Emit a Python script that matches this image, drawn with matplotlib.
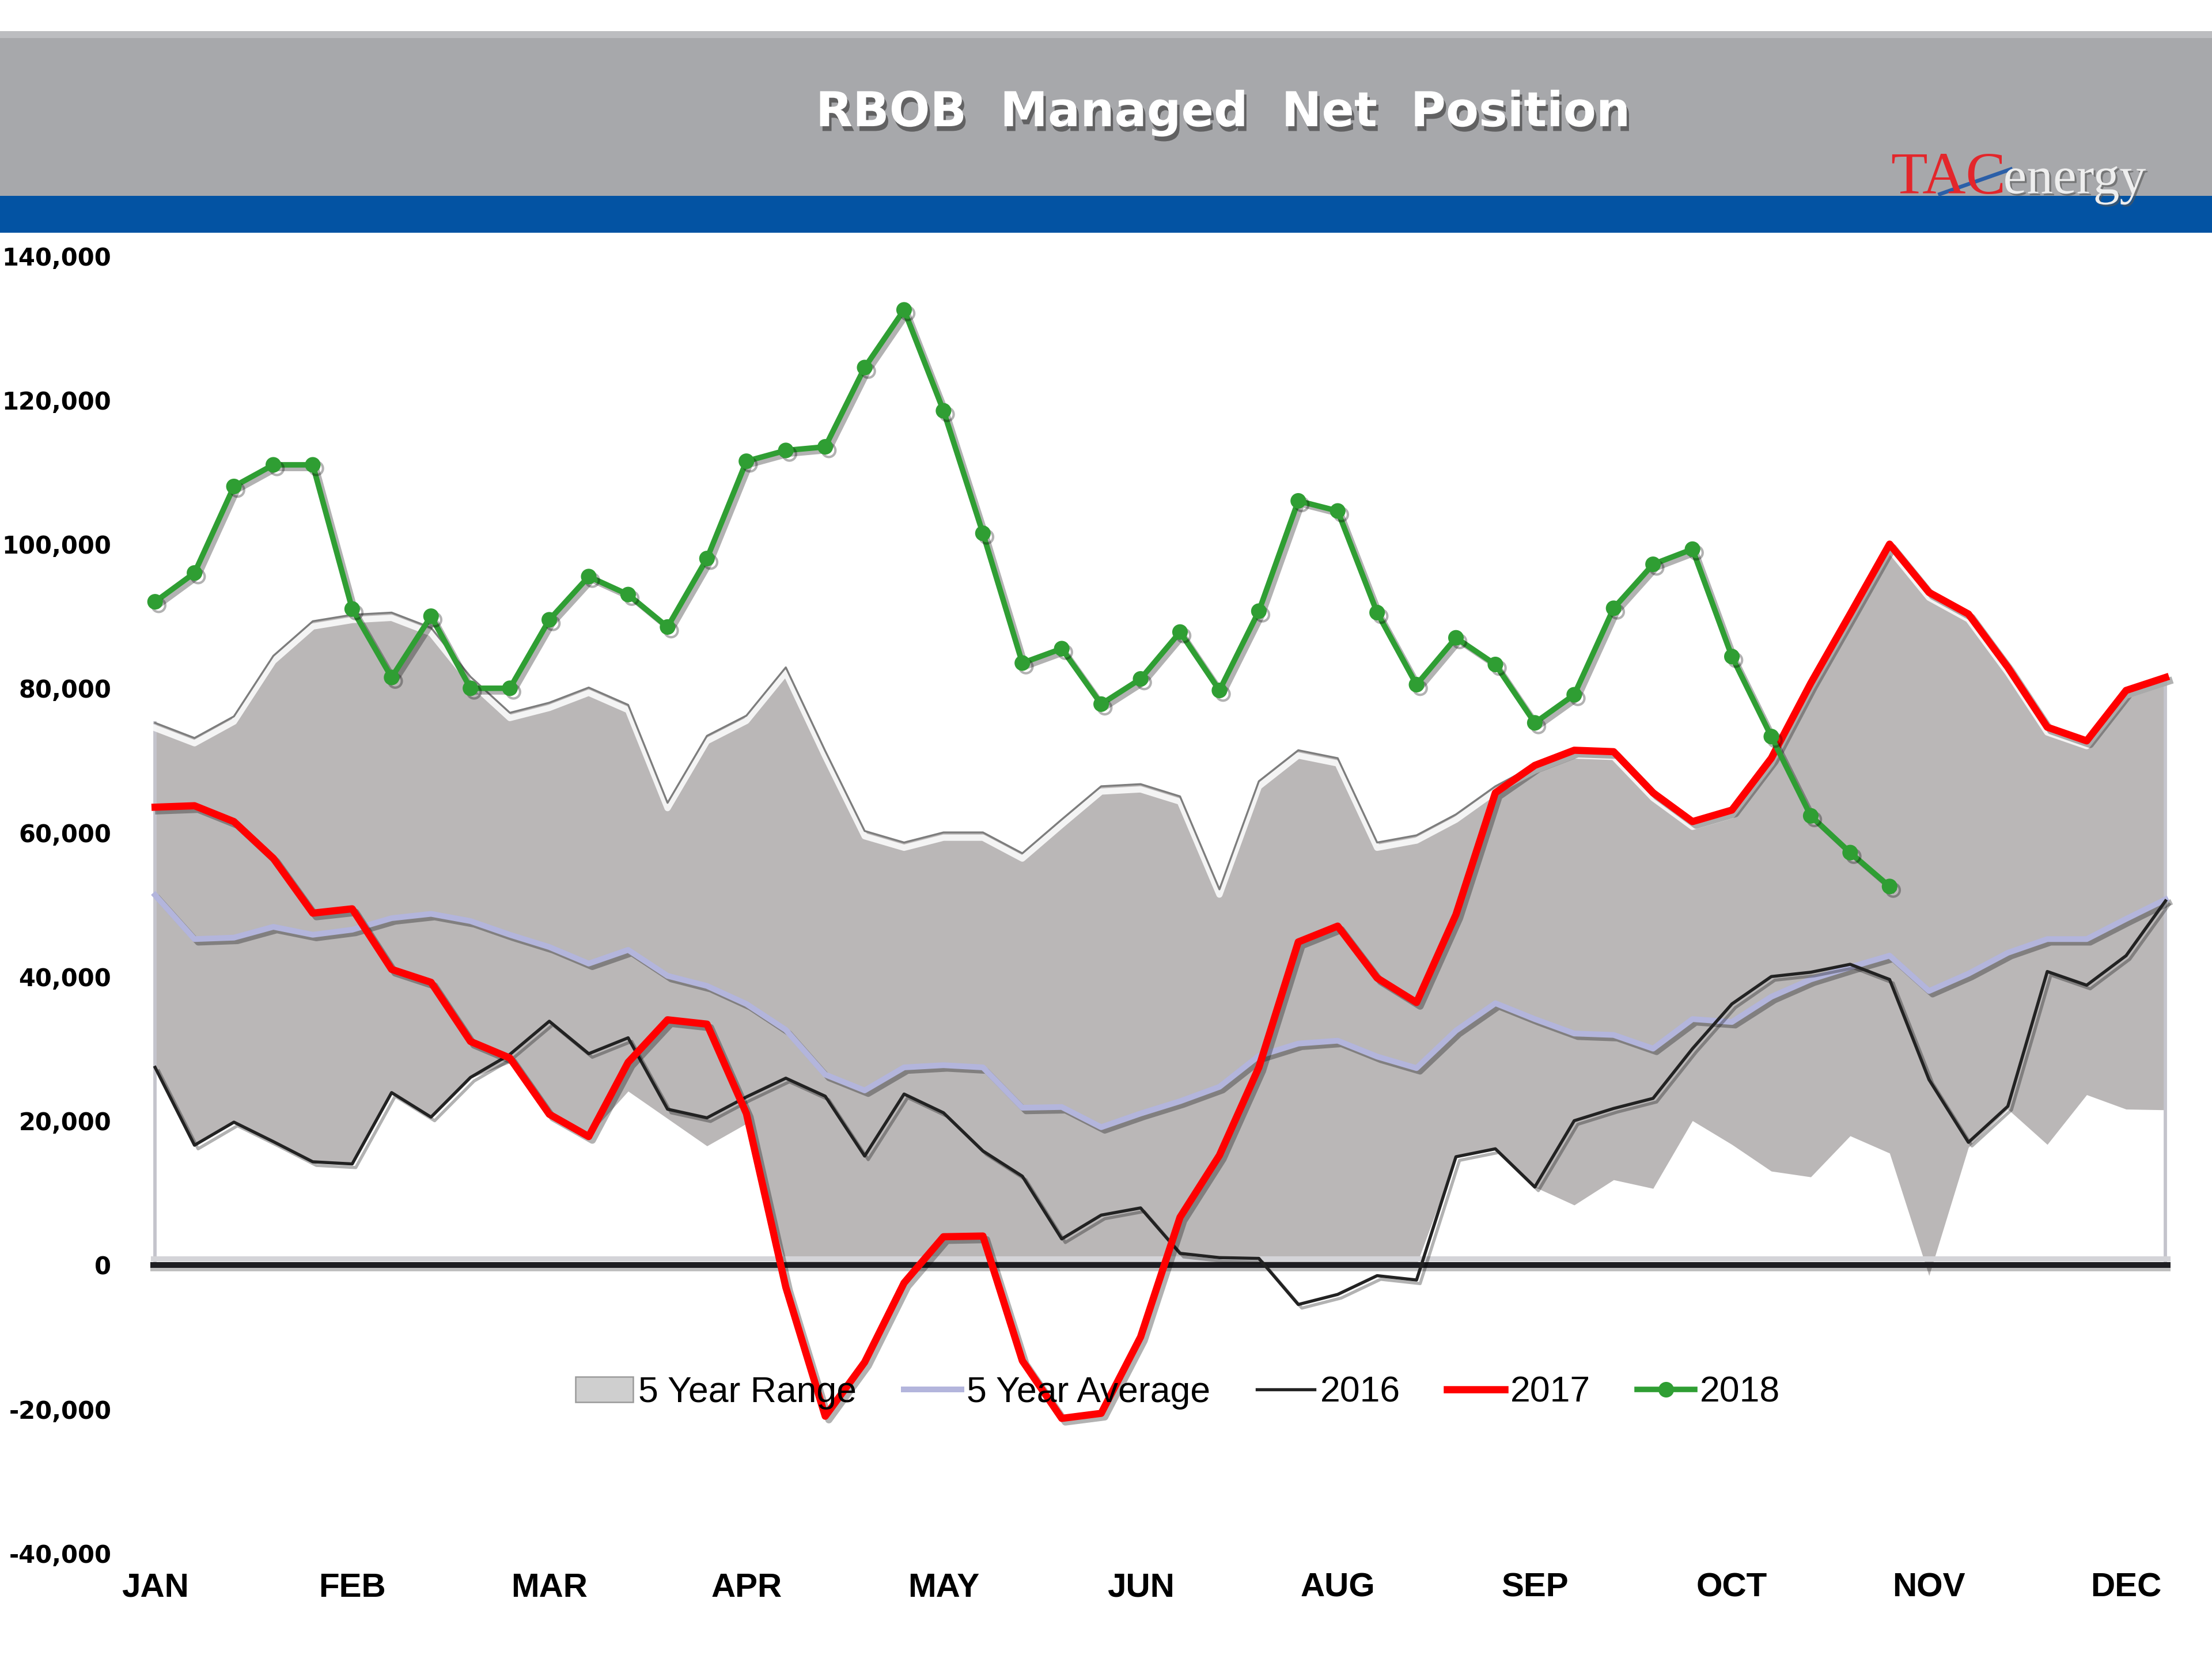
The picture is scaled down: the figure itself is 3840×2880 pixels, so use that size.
import numpy as np
import matplotlib
matplotlib.use("Agg")
from matplotlib import pyplot as plt
from matplotlib import patheffects as pe
from matplotlib import transforms
from matplotlib.patches import Rectangle, Patch
from matplotlib.lines import Line2D

# weekly values, week index 0..51
weeks = np.arange(52)
month_labels = ["JAN", "FEB", "MAR", "APR", "MAY", "JUN", "AUG", "SEP", "OCT", "NOV", "DEC"]
month_ticks = np.arange(0, 55, 5)

range_upper = [75200, 73100, 76100, 84500, 89300, 90200, 90500, 88400, 81600, 76600,
               78000, 80100, 77700, 64100, 73400, 76200, 82900, 71300, 60200, 58600,
               60000, 60000, 57100, 61800, 66400, 66700, 65000, 52100, 67100, 71400,
               70300, 58600, 59600, 62500, 66400, 69300, 71400, 71200, 65500, 61500,
               63100, 70300, 80700, 90300, 100000, 93300, 90300, 82900, 74600, 72700,
               79700, 81500]
range_lower = [27400, 16700, 19800, 17200, 14300, 13900, 24100, 20600, 25900, 28000,
               20800, 18000, 24100, 20300, 16500, 19600, 0, 0, 0, 0,
               0, 0, 0, 0, 0, 0, 0, 0, 0, 0,
               0, 0, 0, 14900, 16000, 10800, 8300, 11800, 10600, 20000,
               16700, 13000, 12200, 17900, 15500, -1500, 16300, 21600, 16700, 23600,
               21600, 21500]
avg5 = [51300, 45200, 45400, 46900, 45800, 46500, 48100, 48700, 47700, 45800,
        44100, 41800, 43700, 40100, 38700, 36200, 32600, 26400, 24200, 27400,
        27700, 27400, 21800, 21900, 19100, 21000, 22700, 24700, 29000, 30700,
        31100, 28900, 27300, 32500, 36300, 34100, 32100, 31900, 30000, 34100,
        33700, 37200, 39600, 41300, 42900, 38000, 40400, 43300, 45200, 45200,
        48000, 50700]
y2016 = [27400, 16600, 19800, 17100, 14300, 14000, 23900, 20500, 26000, 29200,
         33800, 29300, 31500, 21600, 20400, 23300, 25900, 23400, 15100, 23700,
         21100, 15800, 12300, 3600, 6900, 7900, 1600, 1000, 900, -5500,
         -4100, -1500, -2100, 15000, 16100, 10800, 20000, 21700, 23100, 30000,
         36200, 40000, 40600, 41700, 39600, 25700, 17000, 22000, 40700, 38800,
         42900, 50500]
y2017 = [63500, 63700, 61500, 56400, 48800, 49400, 41000, 39200, 31000, 28700,
         20900, 17800, 28100, 34000, 33400, 21000, -3100, -21000, -13500, -2500,
         3900, 4000, -13300, -21300, -20600, -10000, 6600, 15200, 27400, 44800,
         47000, 39800, 36400, 48600, 65500, 69300, 71400, 71200, 65500, 61500,
         63100, 70300, 80700, 90300, 100000, 93300, 90300, 82900, 74600, 72700,
         79700, 81500]
y2018 = [92000, 96000, 108000, 111000, 111000, 91000, 81500, 90000, 80000, 80000,
         89500, 95500, 93000, 88500, 98000, 111500, 113000, 113500, 124500, 132500,
         118500, 101500, 83500, 85500, 77800, 81300, 87800, 79700, 90700, 106000,
         104600, 90500, 80500, 87000, 83300, 75200, 79100, 91100, 97200, 99300,
         84400, 73300, 62300, 57200, 52500]

narrow = ["Liberation Sans", "DejaVu Sans"]

fig = plt.figure(figsize=(12.8, 9.6), dpi=300)
fig.patch.set_facecolor("white")

# header bands
fig.add_artist(Rectangle((0, 0.8818), 1, 0.0995, transform=fig.transFigure,
                         facecolor="#a7a8ab", edgecolor="none"))
fig.add_artist(Rectangle((0, 0.977), 1, 0.0043, transform=fig.transFigure,
                         facecolor="#bcbdc0", edgecolor="none"))
fig.add_artist(Rectangle((0, 0.8597), 1, 0.0221, transform=fig.transFigure,
                         facecolor="#0353a3", edgecolor="none"))
fig.text(0.553, 0.932, "RBOB  Managed  Net  Position", color="white",
         fontsize=20, fontweight="bold", ha="center", va="center",
         path_effects=[pe.withSimplePatchShadow(offset=(1, -2), shadow_rgbFace="#444444", alpha=0.7)])
fig.text(0.9069, 0.8835, "TAC", color="#e3262b", fontsize=25, family="Liberation Serif",
         ha="right", va="baseline")
fig.text(0.9056, 0.8835, "energy", color="#eeeeee", fontsize=22, family="Liberation Serif",
         ha="left", va="baseline",
         path_effects=[pe.withSimplePatchShadow(offset=(0.8, -0.8), shadow_rgbFace="#555555", alpha=0.6)])
fig.add_artist(Line2D([0.877, 0.909], [0.883, 0.898], transform=fig.transFigure,
                      color="#2b5fa8", lw=1.6))

ax = fig.add_axes([0.0612, 0.0638, 0.9267, 0.782])
ax.set_xlim(-0.5, 51.5)
ax.set_ylim(-40000, 140000)

shadow = [pe.SimpleLineShadow(offset=(1.5, -1.5), shadow_color="k", alpha=0.3), pe.Normal()]

# 5 year range
ax.fill_between(weeks, range_lower, range_upper, color="#bab7b7", lw=0, zorder=1)
bevel = transforms.offset_copy(ax.transData, fig=fig, y=-2.2, units="points")
ax.plot(weeks, range_upper, color="white", lw=2.6, alpha=0.85, transform=bevel, zorder=1.5)
ax.plot(weeks, range_upper, color="#7d7d7d", lw=0.8, zorder=1.6)
for i in (0, 51):
    ax.plot([i, i], [0, range_upper[i]], color="#c4c4cc", lw=1.4, zorder=1.4)

# zero floor
up = transforms.offset_copy(ax.transData, fig=fig, y=2.5, units="points")
ax.plot([-0.05, 51.05], [0, 0], color="#d4d4d8", lw=2.2, transform=up, zorder=1.7)
ax.plot([-0.05, 51.05], [0, 0], color="#1e1e22", lw=2.4, zorder=1.8,
        path_effects=[pe.SimpleLineShadow(offset=(0, -1.5), shadow_color="k", alpha=0.25), pe.Normal()])

ax.plot(weeks, avg5, color="#b3b5dc", lw=2.4, zorder=2, path_effects=shadow)
ax.plot(weeks, y2016, color="#222222", lw=1.3, zorder=3, path_effects=shadow)
ax.plot(weeks, y2017, color="#ff0000", lw=3.0, zorder=4, path_effects=shadow)
ax.plot(weeks[:len(y2018)], y2018, color="#2f9e33", lw=2.3, marker="o", ms=5.5,
        zorder=5, path_effects=shadow)

for s in ax.spines.values():
    s.set_visible(False)
ax.set_xticks(month_ticks)
ax.set_xticklabels(month_labels, fontsize=14, fontweight="bold", family=narrow)
ax.set_yticks(np.arange(-40000, 140001, 20000))
ax.set_yticklabels([f"{v:,}" for v in np.arange(-40000, 140001, 20000)],
                   fontsize=10, fontweight="bold")
ax.tick_params(axis="both", length=0)
ax.tick_params(axis="y", pad=10)
ax.tick_params(axis="x", pad=8)

handles = [
    Patch(facecolor="#cfcfcf", edgecolor="#9a9a9a", lw=0.6),
    Line2D([], [], color="#b3b5dc", lw=2.4),
    Line2D([], [], color="#222222", lw=1.3),
    Line2D([], [], color="#ff0000", lw=3.0),
    Line2D([], [], color="#2f9e33", lw=2.3, marker="o", ms=5.5),
]
labels = ["5 Year Range", "5 Year Average", "2016", "2017", "2018"]
leg = ax.legend(handles, labels, loc="center", bbox_to_anchor=(0.5325, 0.1607),
                bbox_transform=fig.transFigure, ncol=5, frameon=False,
                prop={"family": narrow, "size": 15}, handlelength=1.6,
                handletextpad=0.15, columnspacing=1.3)
leg.set_zorder(6)

fig.savefig("out.png", dpi=300, facecolor="white")
